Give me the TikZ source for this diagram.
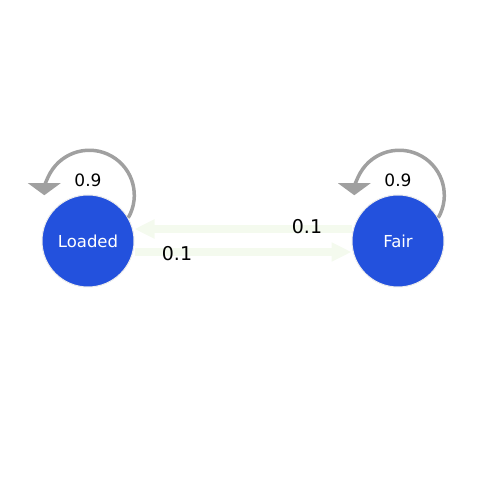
\documentclass[tikz,border=0pt]{standalone}
\usepackage{fontspec}
\setmainfont{DejaVu Sans}
\usetikzlibrary{arrows.meta,positioning,calc}
\definecolor{stateblue}{RGB}{35,81,221}
\definecolor{loopgray}{RGB}{160,160,160}
\definecolor{paleedge}{RGB}{244,250,238}
\definecolor{edgerim}{RGB}{238,224,238}
\tikzset{
  state/.style={circle,fill=stateblue,draw=white!85!gray,line width=1pt,
    minimum size=92pt,inner sep=0pt,text=white,font=\fontsize{16.5}{18}\selectfont},
  loopline/.style={draw=loopgray,line width=3.5pt,-{Triangle[length=12pt,width=32pt]}},
  looplabel/.style={font=\fontsize{17}{19}\selectfont},
  fatedge/.style={draw=paleedge,line width=8pt,-{Triangle[length=20pt,width=18pt]}},
  edgelabel/.style={font=\fontsize{19}{21}\selectfont}
}
\begin{document}
\begin{tikzpicture}[x=1pt,y=1pt]
   \useasboundingbox (0,0) rectangle (484,482);
   % states
   \node [state] (L) at (88,241) {Loaded};
   \node [state] (F) at (398,241) {Fair};
   % transitions between the states
   \draw [fatedge] ([yshift=12pt]F.west) -- ([yshift=12pt]L.east);
   \draw [fatedge] ([yshift=-11pt]L.east) -- ([yshift=-11pt]F.west);
   \node [edgelabel] (lFL) at (307,255) {0.1};
   \node [edgelabel] (lLF) at (177,228) {0.1};
   % self loops
   \draw [loopline] (L.30) arc[start angle=-30,end angle=180,radius=45];
   \node [looplabel] (lLL) at ([yshift=61pt]L.center) {0.9};
   \draw [loopline] (F.30) arc[start angle=-30,end angle=180,radius=45];
   \node [looplabel] (lFF) at ([yshift=61pt]F.center) {0.9};
\end{tikzpicture}
\end{document}
